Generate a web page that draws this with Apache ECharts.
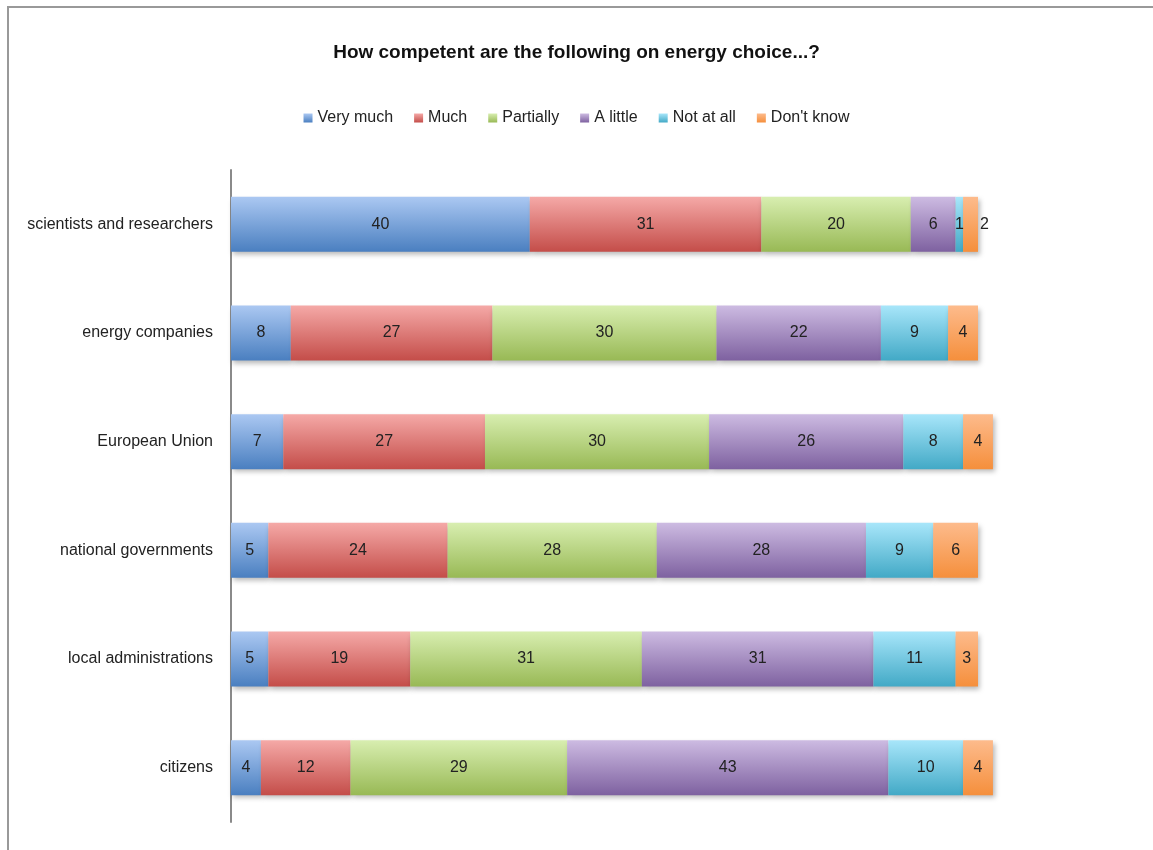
<!DOCTYPE html>
<html>
<head>
<meta charset="utf-8">
<title>How competent are the following on energy choice...?</title>
<script src="https://cdn.jsdelivr.net/npm/echarts@6/dist/echarts.min.js"></script>
<style>
  html, body { margin: 0; padding: 0; background: #fff; }
  #chart { width: 1153px; height: 850px; }
</style>
</head>
<body>
<div id="chart"></div>
<script>
// categories, top to bottom
var categories = [
  'scientists and researchers',
  'energy companies',
  'European Union',
  'national governments',
  'local administrations',
  'citizens'
];
var seriesNames = ['Very much', 'Much', 'Partially', 'A little', 'Not at all', "Don't know"];

// values (%) per answer, one entry per category
var veryMuch  = [40, 8, 7, 5, 5, 4];
var much      = [31, 27, 27, 24, 19, 12];
var partially = [20, 30, 30, 28, 31, 29];
var aLittle   = [6, 22, 26, 28, 31, 43];
var notAtAll  = [1, 9, 8, 9, 11, 10];
var dontKnow  = [2, 4, 4, 6, 3, 4];

var seriesData = [veryMuch, much, partially, aLittle, notAtAll, dontKnow];

// office-like gradient colours, [top, bottom]
var colors = [
  ['#abc8f2', '#4a7fc0'],
  ['#f5a9a7', '#c44d49'],
  ['#d8eeb0', '#98b955'],
  ['#cdbbe2', '#7e61a0'],
  ['#a8e6fa', '#42a9c6'],
  ['#fdbb8c', '#f58f3c']
];

function grad(c) {
  return new echarts.graphic.LinearGradient(0, 0, 0, 1, [
    { offset: 0, color: c[0] },
    { offset: 1, color: c[1] }
  ]);
}

var chart = echarts.init(document.getElementById('chart'));

var series = seriesNames.map(function (name, i) {
  return {
    name: name,
    type: 'bar',
    stack: 'total',
    barWidth: 55,
    clip: false,
    itemStyle: {
      color: grad(colors[i]),
      shadowColor: 'rgba(0,0,0,0.28)',
      shadowBlur: 5,
      shadowOffsetX: 2,
      shadowOffsetY: 3
    },
    label: {
      show: true,
      position: 'inside',
      color: '#222',
      fontSize: 16,
      fontFamily: 'Liberation Sans, Arial, sans-serif'
    },
    data: seriesData[i].map(function (v, j) {
      // the tiny "Don't know" slice of the first row has its label outside
      if (i === 5 && j === 0) {
        return { value: v, label: { position: 'right', distance: 2 } };
      }
      return v;
    })
  };
});

chart.setOption({
  animation: false,
  textStyle: { fontFamily: 'Liberation Sans, Arial, sans-serif' },
  title: {
    text: 'How competent are the following on energy choice...?',
    left: 'center',
    top: 38,
    textStyle: {
      fontSize: 19,
      fontWeight: 'bold',
      color: '#111',
      fontFamily: 'Liberation Sans, Arial, sans-serif'
    }
  },
  legend: {
    top: 105,
    left: 'center',
    icon: 'rect',
    itemWidth: 9,
    itemHeight: 9,
    itemGap: 21,
    textStyle: {
      fontSize: 16,
      color: '#222'
    },
    data: seriesNames
  },
  graphic: [
    {
      type: 'polyline',
      shape: { points: [[8, 850], [8, 7], [1153, 7]] },
      style: { stroke: '#999', lineWidth: 2, fill: null }
    }
  ],
  grid: {
    left: 231,
    right: 175,
    top: 170,
    bottom: 28,
    containLabel: false
  },
  xAxis: {
    type: 'value',
    min: 0,
    max: 100,
    show: false
  },
  yAxis: {
    type: 'category',
    inverse: true,
    data: categories,
    axisLine: { show: true, lineStyle: { color: '#8a8a8a', width: 2 } },
    axisTick: { show: false },
    axisLabel: {
      fontSize: 16,
      color: '#222',
      margin: 18
    }
  },
  series: series
});
</script>
</body>
</html>
